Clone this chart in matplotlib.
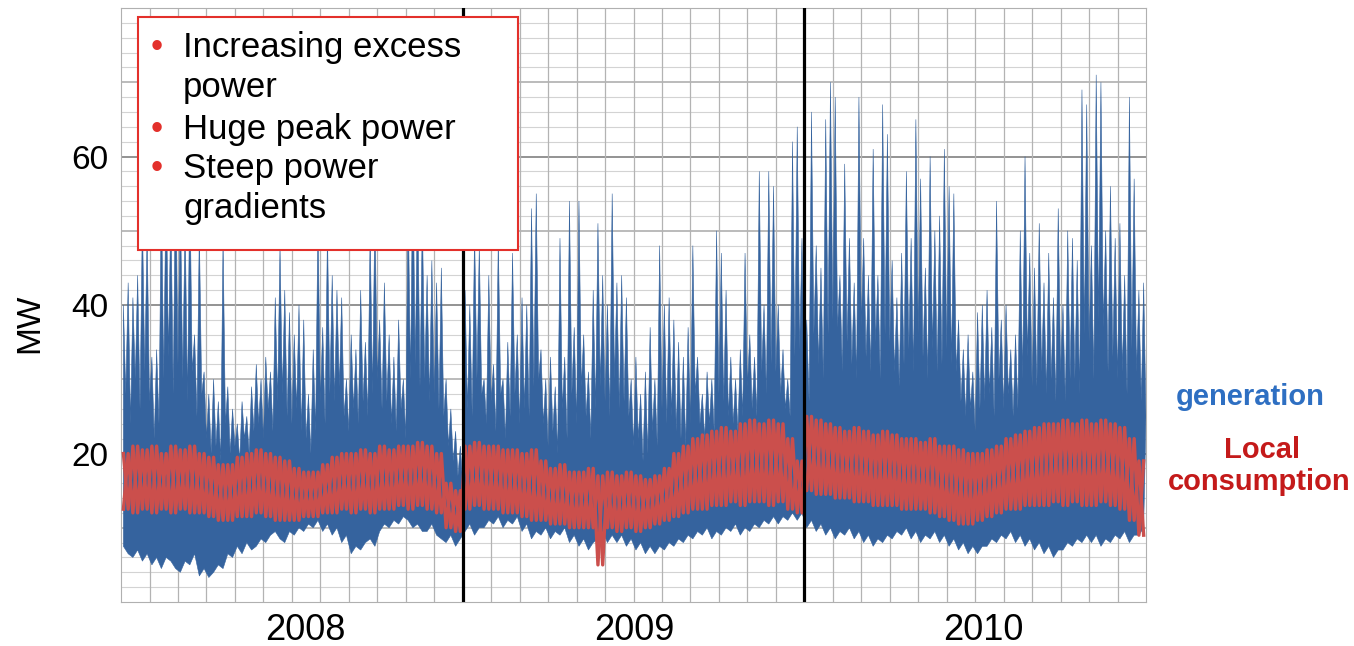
import matplotlib.pyplot as plt
import numpy as np
from matplotlib.patches import Rectangle

plt.rcParams['font.family'] = ['Liberation Sans', 'DejaVu Sans']

years = ["2008", "2009", "2010"]
year_label_pos = [0.5385, 1.5015, 2.523]

# spike tops of generation, 72 readings per year (MW)
peak_2008 = [40, 43, 41, 44, 52, 50, 33, 34, 56, 58, 54, 60, 55, 52, 57, 36, 50, 31, 28, 30,
             27, 49, 29, 26, 24, 27, 25, 29, 32, 30, 33, 31, 41, 48, 42, 39, 36, 40, 38, 28,
             34, 52, 37, 50, 44, 42, 41, 30, 36, 34, 42, 35, 50, 53, 38, 43, 36, 33, 38, 30,
             55, 60, 56, 52, 44, 46, 43, 45, 30, 26, 23, 21]
peak_2009 = [42, 40, 50, 48, 30, 44, 32, 49, 30, 35, 47, 36, 41, 40, 53, 55, 34, 30, 33, 29,
             49, 33, 54, 37, 54, 36, 31, 42, 51, 44, 40, 55, 43, 44, 41, 30, 33, 28, 31, 37,
             30, 48, 40, 41, 38, 35, 33, 37, 48, 33, 28, 31, 30, 50, 47, 42, 33, 30, 34, 47,
             36, 33, 58, 40, 58, 56, 40, 34, 30, 62, 64, 49]
peak_2010 = [38, 66, 48, 45, 65, 70, 68, 44, 59, 49, 43, 68, 49, 44, 61, 44, 67, 63, 46, 41,
             47, 58, 49, 65, 57, 45, 60, 50, 52, 61, 56, 55, 38, 34, 36, 31, 39, 40, 42, 37,
             54, 38, 40, 34, 36, 50, 60, 47, 45, 51, 43, 47, 41, 53, 40, 50, 49, 46, 69, 67,
             48, 71, 70, 50, 56, 49, 51, 44, 68, 57, 42, 43]

# level between the spikes, 72 readings per year (MW)
trough_2008 = [28, 24, 30, 26, 31, 27, 22, 24, 30, 33, 28, 32, 30, 27, 31, 25, 28, 22, 20, 21,
               19, 24, 20, 21, 19, 22, 20, 23, 24, 22, 26, 23, 27, 28, 25, 24, 26, 23, 22, 20,
               23, 27, 24, 28, 27, 29, 25, 23, 26, 24, 27, 25, 28, 30, 26, 27, 24, 23, 26, 22,
               30, 32, 29, 30, 27, 28, 26, 25, 21, 19, 17, 16]
trough_2009 = [26, 25, 30, 28, 24, 27, 23, 28, 22, 25, 28, 24, 26, 25, 29, 30, 24, 21, 23, 20,
               26, 22, 28, 24, 29, 25, 22, 26, 29, 27, 25, 30, 26, 27, 25, 21, 22, 19, 20, 23,
               21, 26, 24, 25, 23, 22, 21, 24, 28, 24, 22, 24, 23, 28, 27, 25, 24, 23, 25, 29,
               26, 25, 31, 28, 32, 31, 28, 26, 25, 33, 34, 28]
trough_2010 = [27, 36, 32, 30, 36, 38, 37, 31, 35, 32, 30, 37, 33, 31, 35, 30, 36, 35, 31, 29,
               32, 34, 31, 36, 33, 30, 34, 31, 32, 34, 32, 31, 27, 25, 26, 23, 26, 27, 28, 25,
               30, 26, 28, 25, 26, 30, 33, 29, 29, 31, 28, 30, 27, 31, 27, 30, 30, 28, 36, 35,
               30, 38, 37, 31, 33, 30, 31, 28, 34, 31, 27, 25]

# lower edge of generation, 72 readings per year (MW)
low_2008 = [7.5, 6.5, 6, 7, 5.5, 6.5, 5, 6, 4.5, 6, 5.5, 4.5, 4, 5.5, 5, 6.5, 3.5, 4.5, 3.3, 4,
            5, 4.5, 6.5, 6, 7.5, 6.5, 8, 7, 7.5, 8.5, 8, 9, 9.5, 8.5, 8, 9.5, 9, 10, 9.5, 10.5,
            10, 11, 9.5, 10.5, 9, 10, 8, 9, 6.5, 7.5, 7, 8, 8.5, 7.5, 9.5, 10.5, 10, 11, 10.5, 11.5,
            11, 10, 10.5, 9.5, 9.5, 10.5, 9, 8.5, 8, 9, 7.5, 8.5]
low_2009 = [9.5, 10.5, 9, 10, 10, 11, 10.5, 11.5, 10, 11, 10.5, 11.5, 9.5, 10.5, 8.5, 9.5, 9, 10, 8.5, 9.5,
            9, 10, 8, 9, 7.5, 8.5, 7, 8, 8.5, 9.5, 8, 9, 8, 9, 7.5, 8.5, 7, 8, 6.5, 7.5,
            6.5, 7.5, 7, 8, 7.5, 8.5, 8, 9, 8.5, 9.5, 9, 10, 8.5, 9.5, 9, 10, 9.5, 10.5, 9, 10,
            9.5, 10.5, 10, 11, 10.5, 11.5, 10.5, 11.5, 11, 12, 11, 12]
low_2010 = [10, 11, 9.5, 10.5, 9, 10, 8.5, 9.5, 9, 10, 8.5, 9.5, 8, 9, 7.5, 8.5, 8, 9, 8.5, 9.5,
            9, 10, 8.5, 9.5, 8, 9, 8.5, 9.5, 8, 9, 7.5, 8.5, 7, 8, 6.5, 7.5, 6.5, 7.5, 7.5, 8.5,
            8, 9, 8.5, 9.5, 8, 9, 7.5, 8.5, 7, 8, 6.5, 7.5, 6, 7, 7, 8, 7.5, 8.5, 8, 9,
            8, 9, 7.5, 8.5, 8, 9, 8.5, 9.5, 8, 9, 9, 10]

# local consumption: weekly highs and lows, 36 readings per year (MW)
load_hi_2008 = [20, 21, 20.5, 21, 20, 21, 20.5, 21, 20, 19.5, 18.5, 18.5, 19.5, 20, 20.5, 20, 19.5, 19,
                18, 17.5, 17.5, 18.5, 19.5, 20, 20, 20.5, 20, 21, 20.5, 21, 21, 21.5, 21, 20, 16, 15]
load_hi_2009 = [21, 21.5, 21, 21, 20.5, 20.5, 20, 20.5, 19, 18, 18.5, 17.5, 17.5, 18, 17, 17.5, 17, 17.5,
                17, 16.5, 17, 18, 20, 21, 22, 22.5, 23, 23.5, 23, 24, 24.5, 24, 24.5, 24, 22, 19]
load_hi_2010 = [25, 24.5, 24, 23.5, 23, 23.5, 23, 22.5, 23, 22.5, 22, 22, 21.5, 22, 21, 21, 20.5, 20,
                20, 20.5, 21, 22, 22.5, 23, 23.5, 24, 24, 24.5, 24, 24.5, 24, 24.5, 24, 23.5, 22, 19]
load_lo_2008 = [12.5, 12, 12.5, 12, 12.5, 12, 12.5, 12, 12, 11.5, 11, 11, 11.5, 11.5, 12, 11.5, 11, 11,
                11, 11.5, 11.5, 12, 12, 12.5, 12, 12.5, 12, 12.5, 12.5, 13, 12.5, 13, 12.5, 12, 10, 9.5]
load_lo_2009 = [12.5, 13, 12.5, 12.5, 12, 12, 11.5, 11, 11, 10.5, 10.5, 10, 10, 10, 5, 10, 9.5, 10,
                9.5, 10, 10.5, 11, 11.5, 12, 12.5, 12.5, 13, 13, 13.5, 13, 13.5, 13.5, 13, 13.5, 12.5, 12]
load_lo_2010 = [15, 14.5, 14.5, 14, 14, 13.5, 13.5, 13, 13, 13, 12.5, 12.5, 12.5, 12, 11.5, 11, 10.5, 10.5,
                11, 11.5, 12, 12.5, 12.5, 13, 13, 13, 13.5, 13, 13.5, 13, 13, 13.5, 13, 12.5, 11, 9]

gen_peak = np.array(peak_2008 + peak_2009 + peak_2010, dtype=float)
gen_trough = np.array(trough_2008 + trough_2009 + trough_2010, dtype=float)
gen_low = np.array(low_2008 + low_2009 + low_2010, dtype=float)
load_hi = np.array(load_hi_2008 + load_hi_2009 + load_hi_2010, dtype=float)
load_lo = np.array(load_lo_2008 + load_lo_2009 + load_lo_2010, dtype=float)

# time axis in years after 1 Jan 2008
n = len(gen_peak)
t_peak = (np.arange(n) + 0.5) / 72
t_trough = (np.arange(n) + 1.0) / 72

blue = '#35639e'
red = '#cb4f4c'

fig = plt.figure(figsize=(13.54, 6.46), dpi=100)
ax = fig.add_axes([0.0894, 0.0681, 0.757, 0.9195])
ax.set_xlim(0, 3)
ax.set_ylim(0, 80)

# grid: every 2 MW, stronger every 10 and 20, months vertically
for v in range(2, 80, 2):
    if v % 20 == 0:
        c, w = '#8a8a8a', 1.3
    elif v % 10 == 0:
        c, w = '#a8a8a8', 1.1
    else:
        c, w = '#d3d3d3', 0.8
    ax.axhline(v, color=c, lw=w, zorder=0)
for m in range(1, 36):
    ax.axvline(m / 12, color='#b3b3b3', lw=0.9, zorder=0)

# generation: spikes on top, lower edge below
top_x = np.empty(2 * n)
top_y = np.empty(2 * n)
top_x[0::2], top_x[1::2] = t_peak, t_trough
top_y[0::2], top_y[1::2] = gen_peak, gen_trough
poly_x = np.concatenate([top_x, t_peak[::-1]])
poly_y = np.concatenate([top_y, gen_low[::-1]])
ax.fill(poly_x, poly_y, color=blue, lw=0.4, zorder=1)

# consumption: weekly swing drawn as crossing zigzags
za = np.empty(n)
zb = np.empty(n)
za[0::2], za[1::2] = load_hi, load_lo
zb[0::2], zb[1::2] = load_lo, load_hi
ax.plot(t_peak, za, color=red, lw=2.4, zorder=3)
ax.plot(t_peak, zb, color=red, lw=2.4, zorder=3)

ax.axvline(1, color='black', lw=2.3, zorder=4)
ax.axvline(2, color='black', lw=2.3, zorder=4)

for s in ax.spines.values():
    s.set_color('#b0b0b0')
ax.set_yticks([20, 40, 60])
ax.set_xticks(year_label_pos, years)
ax.tick_params(axis='y', length=0, labelsize=24, pad=9)
ax.tick_params(axis='x', length=0, labelsize=26, pad=8)

fig.text(0.022, 0.5, 'MW', rotation=90, fontsize=24, ha='center', va='center')

# bullet box
box = Rectangle((0.1019, 0.613), 0.2807, 0.3607, transform=fig.transFigure,
                facecolor='white', edgecolor='#e3302b', lw=1.5, zorder=10)
fig.add_artist(box)
lines = [(0.9257, 'Increasing excess', True), (0.8638, 'power', False),
         (0.7988, 'Huge peak power', True), (0.7399, 'Steep power', True),
         (0.6780, 'gradients', False)]
for y, txt, bullet in lines:
    fig.text(0.1352, y, txt, fontsize=25, va='center', ha='left', zorder=11)
    if bullet:
        fig.text(0.116, y, '\u2022', color='#e3302b', fontsize=25, va='center', ha='center', zorder=11)

fig.text(0.9232, 0.3854, 'generation', color='#2e6fc2', fontsize=21, fontweight='bold',
         ha='center', va='center')
fig.text(0.932, 0.3034, 'Local', color='#c41a1a', fontsize=21, fontweight='bold',
         ha='center', va='center')
fig.text(0.930, 0.2539, 'consumption', color='#c41a1a', fontsize=21, fontweight='bold',
         ha='center', va='center')

fig.savefig('out.png', dpi=100)
